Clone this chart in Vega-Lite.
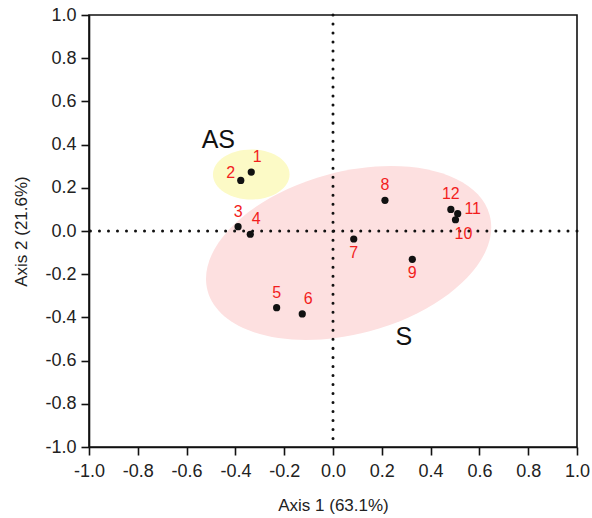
{
  "$schema": "https://vega.github.io/schema/vega-lite/v6.json",
  "width": 488,
  "height": 432,
  "autosize": {"type": "none"},
  "padding": {"left": 89, "top": 15, "right": 15, "bottom": 71},
  "background": "white",
  "config": {
    "font": "Liberation Sans",
    "view": {"stroke": "#111", "strokeWidth": 1.6},
    "axis": {
      "grid": false,
      "domainColor": "#111",
      "domainWidth": 1.6,
      "tickColor": "#111",
      "tickWidth": 1.6,
      "tickSize": 8,
      "labelFlush": false,
      "labelOverlap": false,
      "labelFont": "Liberation Sans",
      "labelFontSize": 18,
      "labelColor": "#222",
      "titleFont": "Liberation Sans",
      "titleFontSize": 17,
      "titleFontWeight": "normal",
      "titleColor": "#222"
    }
  },
  "datasets": {
    "pts": [
      {"id": "1", "x": -0.335, "y": 0.273},
      {"id": "2", "x": -0.378, "y": 0.234},
      {"id": "3", "x": -0.389, "y": 0.02},
      {"id": "4", "x": -0.339, "y": -0.015},
      {"id": "5", "x": -0.231, "y": -0.355},
      {"id": "6", "x": -0.126, "y": -0.384},
      {"id": "7", "x": 0.085, "y": -0.037},
      {"id": "8", "x": 0.213, "y": 0.142},
      {"id": "9", "x": 0.325, "y": -0.131},
      {"id": "10", "x": 0.502, "y": 0.052},
      {"id": "11", "x": 0.511, "y": 0.08},
      {"id": "12", "x": 0.483, "y": 0.1}
    ]
  },
  "encoding": {
    "x": {"field": "x", "type": "quantitative", "scale": {"domain": [-1, 1], "nice": false, "zero": false},
      "axis": {"title": "Axis 1 (63.1%)", "values": [-1, -0.8, -0.6, -0.4, -0.2, 0, 0.2, 0.4, 0.6, 0.8, 1], "labelExpr": "replace(format(datum.value, '.1f'), '\u2212', '-')", "titlePadding": 17, "labelPadding": 7}},
    "y": {"field": "y", "type": "quantitative", "scale": {"domain": [-1, 1], "nice": false, "zero": false},
      "axis": {"title": "Axis 2 (21.6%)", "values": [-1, -0.8, -0.6, -0.4, -0.2, 0, 0.2, 0.4, 0.6, 0.8, 1], "labelExpr": "replace(format(datum.value, '.1f'), '\u2212', '-')", "titlePadding": 14, "labelPadding": 5}}
  },
  "layer": [
    {
      "data": {"values": [{"x": -0.335, "y": 0.262}]},
      "mark": {"type": "point", "filled": true, "fill": "#fcfac6", "opacity": 1, "strokeWidth": 0, "size": 5868,
        "shape": "M 1 0 C 1 0.3606 0.5523 0.653 0 0.653 C -0.5523 0.653 -1 0.3606 -1 0 C -1 -0.3606 -0.5523 -0.653 0 -0.653 C 0.5523 -0.653 1 -0.3606 1 0 Z"}
    },
    {
      "data": {"values": [{"x": 0.064, "y": -0.102}]},
      "mark": {"type": "point", "filled": true, "fill": "#fde0e0", "opacity": 1, "strokeWidth": 0, "size": 85264, "angle": 345,
        "shape": "M 1 0 C 1 0.3065 0.5523 0.555 0 0.555 C -0.5523 0.555 -1 0.3065 -1 0 C -1 -0.3065 -0.5523 -0.555 0 -0.555 C 0.5523 -0.555 1 -0.3065 1 0 Z"}
    },
    {
      "data": {"values": [{"v": 0}]},
      "mark": {"type": "rule", "stroke": "#111", "strokeWidth": 3, "strokeDash": [0.01, 9], "strokeCap": "round"},
      "encoding": {"x": {"field": "v", "type": "quantitative"}, "y": null}
    },
    {
      "data": {"values": [{"v": 0}]},
      "mark": {"type": "rule", "stroke": "#111", "strokeWidth": 3, "strokeDash": [0.01, 9], "strokeCap": "round"},
      "encoding": {"y": {"field": "v", "type": "quantitative"}, "x": null}
    },
    {
      "data": {"name": "pts"},
      "mark": {"type": "circle", "size": 52, "color": "#111", "opacity": 1}
    },
    {
      "data": {"name": "pts"},
      "transform": [{"filter": "indexof(['3','5','8','12'], datum.id) >= 0"}],
      "mark": {"type": "text", "color": "#f21d1d", "fontSize": 16, "dy": -15, "align": "center", "baseline": "middle"},
      "encoding": {"text": {"field": "id"}}
    },
    {
      "data": {"name": "pts"},
      "transform": [{"filter": "indexof(['1','4','6'], datum.id) >= 0"}],
      "mark": {"type": "text", "color": "#f21d1d", "fontSize": 16, "dx": 6, "dy": -15, "align": "center", "baseline": "middle"},
      "encoding": {"text": {"field": "id"}}
    },
    {
      "data": {"name": "pts"},
      "transform": [{"filter": "indexof(['7','9'], datum.id) >= 0"}],
      "mark": {"type": "text", "color": "#f21d1d", "fontSize": 16, "dy": 14, "align": "center", "baseline": "middle"},
      "encoding": {"text": {"field": "id"}}
    },
    {
      "data": {"name": "pts"},
      "transform": [{"filter": "datum.id == '10'"}],
      "mark": {"type": "text", "color": "#f21d1d", "fontSize": 16, "dx": 8, "dy": 14, "align": "center", "baseline": "middle"},
      "encoding": {"text": {"field": "id"}}
    },
    {
      "data": {"name": "pts"},
      "transform": [{"filter": "datum.id == '11'"}],
      "mark": {"type": "text", "color": "#f21d1d", "fontSize": 16, "dx": 15, "dy": -5, "align": "center", "baseline": "middle"},
      "encoding": {"text": {"field": "id"}}
    },
    {
      "data": {"name": "pts"},
      "transform": [{"filter": "datum.id == '2'"}],
      "mark": {"type": "text", "color": "#f21d1d", "fontSize": 16, "dx": -10, "dy": -7, "align": "center", "baseline": "middle"},
      "encoding": {"text": {"field": "id"}}
    },
    {
      "data": {"values": [{"x": -0.47, "y": 0.421, "t": "AS"}, {"x": 0.29, "y": -0.49, "t": "S"}]},
      "mark": {"type": "text", "color": "#111", "fontSize": 25, "align": "center", "baseline": "middle"},
      "encoding": {"text": {"field": "t"}}
    }
  ]
}
